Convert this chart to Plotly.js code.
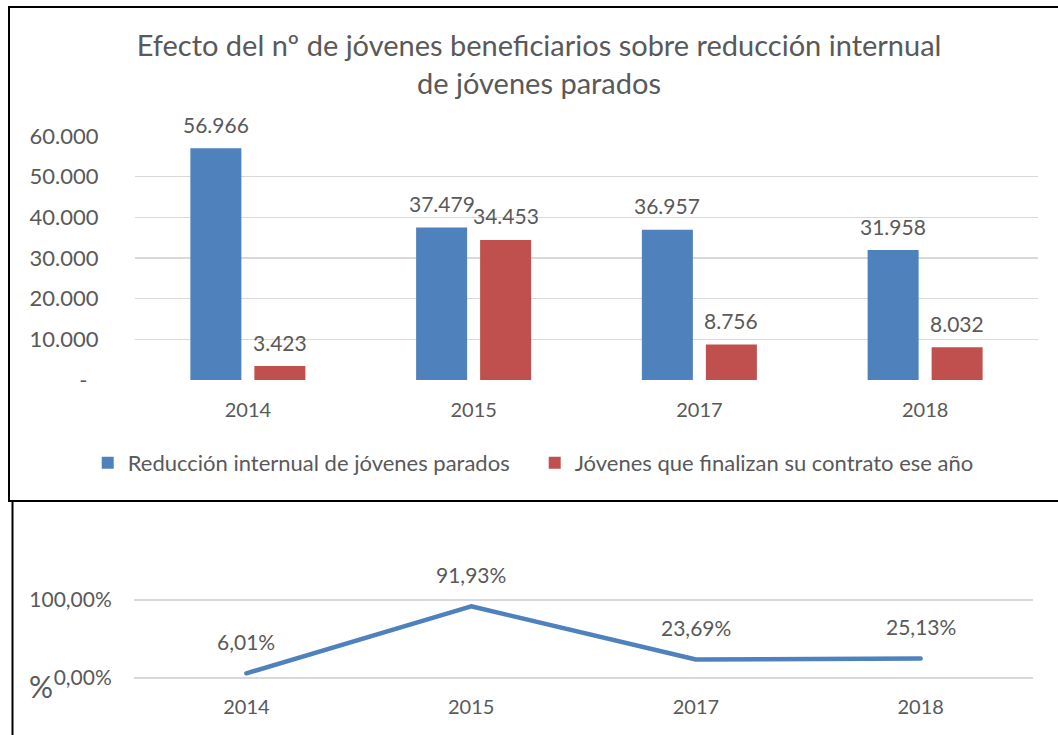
<!DOCTYPE html>
<html>
<head>
<meta charset="utf-8">
<script src="https://cdn.plot.ly/plotly-3.0.1.min.js"></script>
<style>html,body{margin:0;padding:0;background:#fff;}#chart{width:1058px;height:735px;}</style>
</head>
<body>
<div id="chart"></div>
<script>
// ---- data ----
var years = ['2014', '2015', '2017', '2018'];
var reduccion = [56966, 37479, 36957, 31958];
var finalizan = [3423, 34453, 8756, 8032];
var ratio = [0.0601, 0.9193, 0.2369, 0.2513];
var seriesNames = ['Reducción internual de jóvenes parados', 'Jóvenes que finalizan su contrato ese año'];
var yTickVals = [0, 10000, 20000, 30000, 40000, 50000, 60000];
var yTickText = ['-\u00a0\u00a0', '10.000', '20.000', '30.000', '40.000', '50.000', '60.000'];
var y2TickVals = [0, 1];
var y2TickText = ['0,00%', '100,00%'];
var titleText = 'Efecto del nº de jóvenes beneficiarios sobre reducción internual<br>de jóvenes parados';

// ---- styling ----
var FONT = 'Lato, "Open Sans", sans-serif';
var TXT = '#595959';
var BLUE = '#4F81BD';
var RED = '#C0504D';
var GRID = '#D9D9D9';
var W = 1058, H = 735;
function px(x) { return x / W; }
function py(y) { return 1 - y / H; }
function thousands(v) { return String(v).replace(/\B(?=(\d{3})+(?!\d))/g, '.'); }
function pct(v) { return (v * 100).toFixed(2).replace('.', ',') + '%'; }

var traces = [
  { type: 'bar', x: years, y: reduccion, name: seriesNames[0], marker: { color: BLUE }, xaxis: 'x', yaxis: 'y', hoverinfo: 'x+y' },
  { type: 'bar', x: years, y: finalizan, name: seriesNames[1], marker: { color: RED }, xaxis: 'x', yaxis: 'y', hoverinfo: 'x+y' },
  { type: 'scatter', mode: 'lines', x: years, y: ratio, showlegend: false, line: { color: BLUE, width: 4.5 }, xaxis: 'x2', yaxis: 'y2', hoverinfo: 'x+y' }
];

var annotations = [];
years.forEach(function (yr, i) {
  // category axes: annotations positioned by category index
  annotations.push({ x: i, y: reduccion[i], xref: 'x', yref: 'y', text: thousands(reduccion[i]), showarrow: false, xshift: -32, yshift: 24, yanchor: 'middle', font: { family: FONT, size: 21, color: TXT } });
  annotations.push({ x: i, y: finalizan[i], xref: 'x', yref: 'y', text: thousands(finalizan[i]), showarrow: false, xshift: 32, yshift: 24, yanchor: 'middle', font: { family: FONT, size: 21, color: TXT } });
  annotations.push({ x: i, y: ratio[i], xref: 'x2', yref: 'y2', text: pct(ratio[i]), showarrow: false, yshift: 32, yanchor: 'middle', font: { family: FONT, size: 21, color: TXT } });
});
annotations.push({ x: px(41), y: py(686), xref: 'paper', yref: 'paper', text: '%', showarrow: false, xanchor: 'center', yanchor: 'middle', font: { family: FONT, size: 30, color: TXT } });

var layout = {
  width: W, height: H,
  margin: { l: 0, r: 0, t: 0, b: 0 },
  paper_bgcolor: '#fff', plot_bgcolor: 'rgba(0,0,0,0)',
  separators: ',.',
  font: { family: FONT, color: TXT, size: 19 },
  title: { text: titleText, x: 0.5095, xanchor: 'center', xref: 'paper', y: py(56), yanchor: 'top', font: { family: FONT, size: 29, color: TXT } },
  barmode: 'group', bargap: 0.433, bargroupgap: 0.203,
  showlegend: true,
  legend: { orientation: 'h', x: 0.5054, xanchor: 'center', y: py(463), yanchor: 'middle', entrywidth: 402, font: { family: FONT, size: 22, color: TXT }, bgcolor: 'rgba(0,0,0,0)' },
  xaxis: { domain: [px(135), px(1038)], anchor: 'y', type: 'category', range: [-0.5, 3.5], autorange: false, showgrid: false, zeroline: false, showline: false, ticks: 'outside', ticklen: 12, tickcolor: 'rgba(0,0,0,0)', tickfont: { family: FONT, size: 20, color: TXT } },
  yaxis: { domain: [py(380), py(136)], anchor: 'x', range: [0, 60000], autorange: false, tickvals: yTickVals, ticktext: yTickText, showgrid: true, gridcolor: GRID, gridwidth: 1.5, zeroline: false, showline: false, ticks: 'outside', ticklen: 31, tickcolor: 'rgba(0,0,0,0)', tickfont: { family: FONT, size: 22, color: TXT } },
  xaxis2: { domain: [px(134), px(1033)], anchor: 'y2', type: 'category', range: [-0.5, 3.5], autorange: false, showgrid: false, zeroline: false, showline: false, ticks: 'outside', ticklen: 3, tickcolor: 'rgba(0,0,0,0)', tickfont: { family: FONT, size: 20, color: TXT } },
  yaxis2: { domain: [py(685.8), py(584.4)], anchor: 'x2', range: [-0.1, 1.2], autorange: false, tickvals: y2TickVals, ticktext: y2TickText, showgrid: true, gridcolor: GRID, gridwidth: 1.5, zeroline: false, showline: false, ticks: 'outside', ticklen: 17, tickcolor: 'rgba(0,0,0,0)', tickfont: { family: FONT, size: 21, color: TXT } },
  annotations: annotations,
  shapes: [
    { type: 'rect', xref: 'paper', yref: 'paper', x0: px(9), x1: 1.05, y0: py(501), y1: py(7), line: { color: '#000', width: 2 }, fillcolor: 'rgba(0,0,0,0)', layer: 'above' },
    { type: 'line', xref: 'paper', yref: 'paper', x0: px(12.5), x1: px(12.5), y0: py(502), y1: -0.05, line: { color: '#000', width: 2 }, layer: 'above' }
  ]
};

Plotly.newPlot('chart', traces, layout, { displayModeBar: false, staticPlot: true }).then(function (gd) {
  var paths = gd.querySelectorAll('.scatterlayer .js-line');
  paths.forEach(function (p) { p.style.strokeLinejoin = 'round'; p.style.strokeLinecap = 'round'; });
});
</script>
</body>
</html>
